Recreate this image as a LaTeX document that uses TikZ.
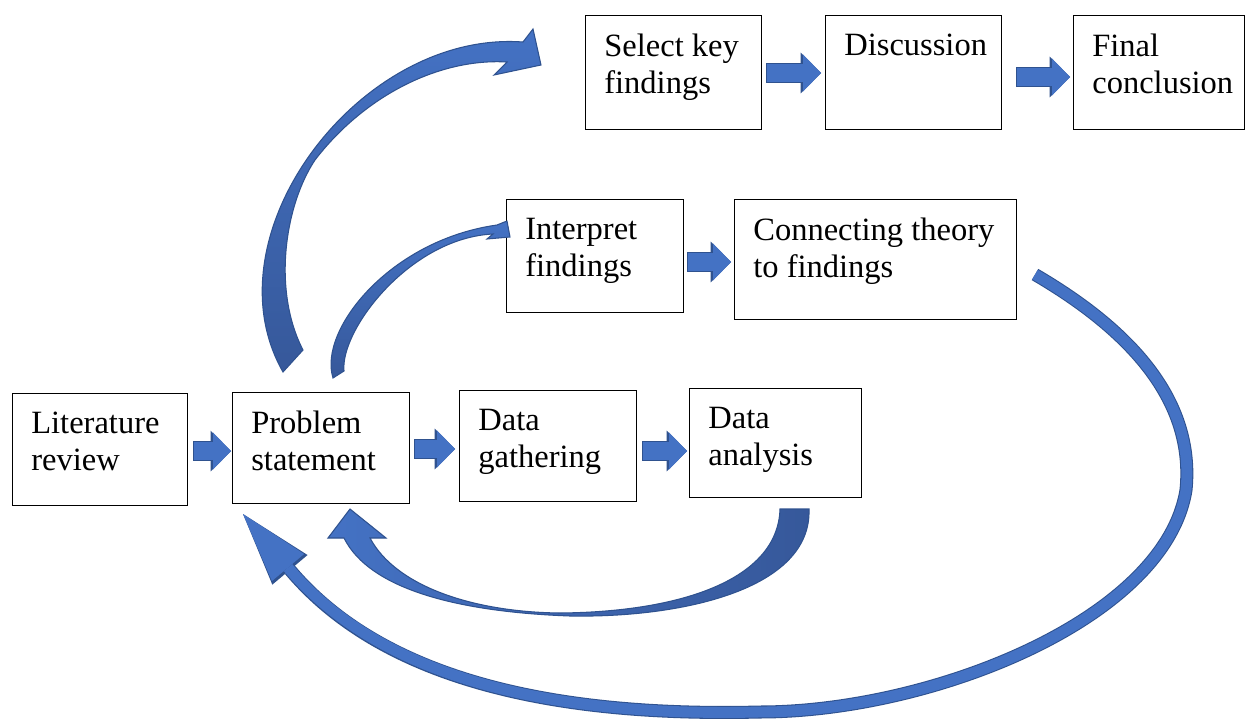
\documentclass[tikz,border=0pt]{standalone}
\usepackage{fontspec}
\setmainfont{Liberation Serif}
\usetikzlibrary{arrows.meta}
\definecolor{arrowblue}{RGB}{68,114,196}
\definecolor{arrowdark}{RGB}{47,82,143}
\definecolor{arrowshade}{RGB}{54,88,154}
\tikzset{
  box/.style={draw, line width=0.6pt, anchor=north west, inner sep=0pt},
  txt/.style={anchor=north west, align=left, inner xsep=0.38cm, inner ysep=0.38cm},
  flow/.style={draw=arrowblue, line width=9.7pt, shorten <=0.6pt,
    -{Triangle[length=10.2pt, width=21pt, line width=0pt]},
    preaction={draw=arrowdark, line width=10.9pt, shorten <=0pt,
      -{Triangle[length=11.6pt, width=23.2pt, line width=0pt]}}},
  loopflow/.style={draw=arrowblue, line width=6.2pt,
    -{Triangle[length=39.8pt, width=23.9pt, line width=0pt]},
    preaction={draw=arrowdark, line width=7.4pt,
      -{Triangle[length=41.5pt, width=26.2pt, line width=0pt]}}},
  bent/.style={draw=arrowdark, line width=0.6pt}
}
\begin{document}
\begin{tikzpicture}[x=0.02cm, y=-0.02cm, font=\fontsize{18.5}{21}\selectfont]
\useasboundingbox (0,0) rectangle (1245,720);

% boxes
\node[box, minimum width=3.5cm, minimum height=2.24cm, label={[txt]north west:Literature\\review}] (lit) at (12,393) {};
\node[box, minimum width=3.54cm, minimum height=2.22cm, label={[txt]north west:Problem\\statement}] (ps) at (232,392) {};
\node[box, minimum width=3.54cm, minimum height=2.22cm, label={[txt]north west:Data\\gathering}] (dg) at (459,390) {};
\node[box, minimum width=3.44cm, minimum height=2.18cm, label={[txt]north west:Data\\analysis}] (da) at (689,388) {};
\node[box, minimum width=3.54cm, minimum height=2.26cm, label={[txt]north west:Interpret\\findings}] (inf) at (506,199) {};
\node[box, minimum width=5.64cm, minimum height=2.4cm, label={[txt]north west:Connecting theory\\to findings}] (conn) at (734,199) {};
\node[box, minimum width=3.52cm, minimum height=2.28cm, label={[txt]north west:Select key\\findings}] (skf) at (585,15) {};
\node[box, minimum width=3.52cm, minimum height=2.28cm, label={[txt]north west:Discussion}] (disc) at (825,15) {};
\node[box, minimum width=3.42cm, minimum height=2.28cm, label={[txt]north west:Final\\conclusion}] (fin) at (1073,15) {};

% straight steps
\foreach \a/\b/\y/\s/\e in {lit/ps/451/5/1, ps/dg/449/4/4, dg/da/451/5/2, inf/conn/262/3/3, skf/disc/73/4/4, disc/fin/77/14/3}
  \draw[flow] ([xshift=\s*0.02cm]\a.east |- 0,\y) -- ([xshift=-\e*0.02cm]\b.west |- 0,\y);

% back to the problem statement
\draw[loopflow] ([shift={(18,15)}]conn.east) .. controls (1130,330) and (1195,400) .. (1186,490)
  .. controls (1165,620) and (930,712) .. (760,712)
  .. controls (520,718) and (370,665) .. ([shift={(11,10)}]ps.south west);

\shadedraw[bent, left color=arrowblue, right color=arrowshade]
  (809,509) .. controls (812,590) and (680,618) .. (570,616)
  .. controls (460,612) and (370,590) .. (344,538)
  -- (328,538) -- (350,509) -- (386,538) -- (370,538)
  .. controls (395,585) and (470,612) .. (560,613)
  .. controls (680,612) and (778,580) .. (780,509) -- cycle;

% up from the problem statement
\shadedraw[bent, top color=arrowblue, bottom color=arrowshade]
  (283,372) .. controls (205,235) and (360,30) .. (523,42)
  -- (533,29) -- (541,65) -- (494,75) -- (507,62)
  .. controls (440,58) and (365,95) .. (315,160)
  .. controls (285,205) and (272,290) .. (303,350) -- cycle;

\shadedraw[bent, top color=arrowblue, bottom color=arrowshade]
  (333,378) .. controls (318,330) and (390,240) .. (497,225)
  -- (507,221) -- (510,237) -- (487,239) -- (493,234)
  .. controls (410,238) and (340,330) .. (344,371) -- cycle;
\end{tikzpicture}
\end{document}
